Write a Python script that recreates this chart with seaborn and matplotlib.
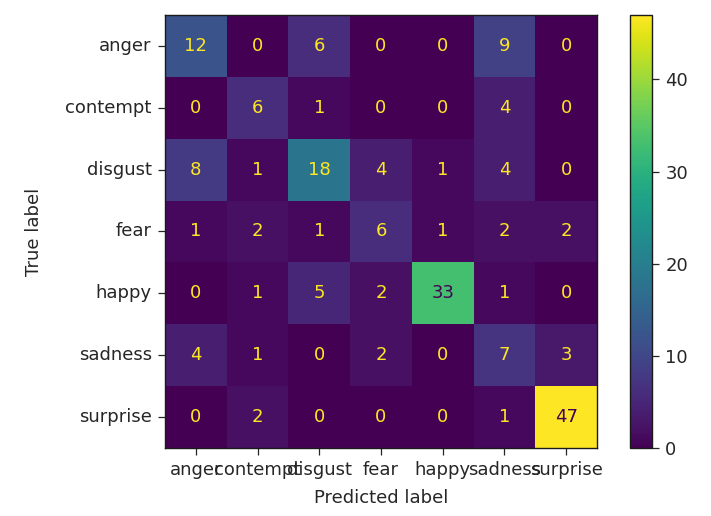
import matplotlib
matplotlib.use("Agg")
import matplotlib.pyplot as plt
import numpy as np
import seaborn as sns

LABELS = ["anger", "contempt", "disgust", "fear", "happy", "sadness", "surprise"]
ROW_ANGER = [12, 0, 6, 0, 0, 9, 0]
ROW_CONTEMPT = [0, 6, 1, 0, 0, 4, 0]
ROW_DISGUST = [8, 1, 18, 4, 1, 4, 0]
ROW_FEAR = [1, 2, 1, 6, 1, 2, 2]
ROW_HAPPY = [0, 1, 5, 2, 33, 1, 0]
ROW_SADNESS = [4, 1, 0, 2, 0, 7, 3]
ROW_SURPRISE = [0, 2, 0, 0, 0, 1, 47]

cm = np.array([ROW_ANGER, ROW_CONTEMPT, ROW_DISGUST, ROW_FEAR,
               ROW_HAPPY, ROW_SADNESS, ROW_SURPRISE])

plt.rcParams.update({"font.family": "DejaVu Sans", "font.size": 13,
                     "text.color": "#262626", "axes.labelcolor": "#262626",
                     "xtick.color": "#262626", "ytick.color": "#262626"})

fig = plt.figure(figsize=(7.11, 5.16), dpi=100)
ax = fig.add_axes([165 / 711, 1 - 448 / 516, 432 / 711, 433 / 516])
cax = fig.add_axes([630 / 711, 1 - 448 / 516, 22 / 711, 433 / 516])

cmap = plt.get_cmap("viridis")
sns.heatmap(cm, annot=True, fmt="d", cmap=cmap, vmin=0, vmax=cm.max(),
            cbar=True, cbar_ax=cax, square=False, ax=ax,
            annot_kws={"fontsize": 13},
            xticklabels=LABELS, yticklabels=LABELS)

# sklearn-style text colours: low cells get the top colour, high cells the bottom one
thresh = (cm.max() + cm.min()) / 2.0
for t in ax.texts:
    v = int(t.get_text())
    t.set_color(cmap(0.0) if v > thresh else cmap(1.0))

for s in ax.spines.values():
    s.set_visible(True)
    s.set_color("#1a1a1a")
    s.set_linewidth(1.0)

ax.tick_params(axis="both", length=5, width=0.9, pad=4.5, labelsize=13)
ax.set_xticklabels(LABELS, rotation=0)
ax.set_yticklabels(LABELS, rotation=0)
ax.set_xlabel("Predicted label", fontsize=13, labelpad=7)
ax.set_ylabel("True label", fontsize=13, labelpad=16)

cbar = ax.collections[0].colorbar
cbar.outline.set_visible(True)
cbar.outline.set_linewidth(1.0)
cbar.outline.set_edgecolor("#1a1a1a")
cbar.set_ticks([0, 10, 20, 30, 40])
cbar.ax.tick_params(labelsize=13, length=5, width=0.9, pad=4.5)

fig.savefig("out.png", dpi=100, facecolor="white")
